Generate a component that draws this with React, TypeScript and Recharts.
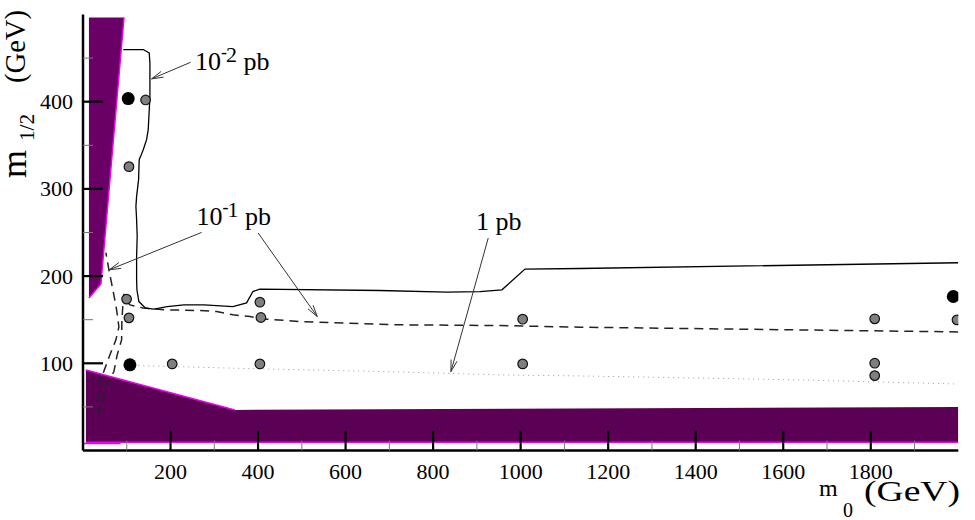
import React from 'react';
import {
    ComposedChart,
    Area,
    Line,
    Scatter,
    XAxis,
    YAxis,
    ReferenceLine,
    ReferenceDot,
} from 'recharts';

const FONT = '"Liberation Serif", "Times New Roman", serif';

// axis ticks
const xTicks = [100, 200, 300, 400, 500, 600, 700, 800, 900, 1000, 1100, 1200, 1300, 1400, 1500, 1600, 1700, 1800, 1900];
const xLabels = [200, 400, 600, 800, 1000, 1200, 1400, 1600, 1800];
const yTicks = [50, 100, 150, 200, 250, 300, 350, 400, 450];
const yLabels = [100, 200, 300, 400];

// excluded regions (m0, [low, high] of m1/2)
const wedgeArea = [
    { x: 13.5, range: [175, 496.5] },
    { x: 40.9, range: [191, 496.5] },
    { x: 93.7, range: [496.5, 496.5] },
];
const wedgeEdge = [
    { x: 93.7, y: 496.5 },
    { x: 40.9, y: 191 },
    { x: 13.5, y: 175 },
];
const bottomArea = [
    { x: 6.6, range: [9.5, 92.4] },
    { x: 347, range: [9.5, 46.5] },
    { x: 2000, range: [9.5, 49.9] },
];
const bottomDiagEdge = [
    { x: 6.6, y: 92.4 },
    { x: 347, y: 46.5 },
];
const bottomLowEdge = [
    { x: 6.6, y: 9.5 },
    { x: 2000, y: 9.5 },
];
const bottomLeftEdge = [
    { x: 2, y: 8 },
    { x: 86, y: 8 },
];

// cross-section contours
const contour001 = [
    { x: 92, y: 459.8 }, { x: 137.6, y: 459.8 }, { x: 151.3, y: 456 }, { x: 152.9, y: 444.6 },
    { x: 152.9, y: 406 }, { x: 150.6, y: 383 }, { x: 149, y: 368 }, { x: 145.3, y: 356.5 },
    { x: 137.6, y: 345 }, { x: 131.6, y: 337.3 }, { x: 128.4, y: 333.5 }, { x: 127, y: 310.6 },
    { x: 122.5, y: 291.4 }, { x: 120.9, y: 280 }, { x: 122.5, y: 264.7 }, { x: 123.8, y: 245.5 },
    { x: 122.5, y: 222.5 }, { x: 122.5, y: 195.8 }, { x: 123.2, y: 184.3 }, { x: 127.7, y: 170.8 },
    { x: 143, y: 163.3 }, { x: 162, y: 162.1 }, { x: 192.4, y: 165.1 }, { x: 230.6, y: 167 },
    { x: 276.3, y: 167 }, { x: 342.5, y: 165.1 }, { x: 373.8, y: 169.3 }, { x: 388.2, y: 182.3 },
    { x: 404.2, y: 185 }, { x: 678.4, y: 183.5 }, { x: 830.8, y: 181.6 }, { x: 907, y: 182.3 },
    { x: 957.2, y: 184.3 }, { x: 1009.8, y: 208 }, { x: 1135.5, y: 208.7 }, { x: 2000, y: 215.3 },
];
const contour01 = [
    { x: 2000, y: 136 }, { x: 1638.6, y: 138.3 }, { x: 1135.5, y: 141.4 }, { x: 952.7, y: 143.3 },
    { x: 724.1, y: 144.1 }, { x: 571, y: 146.7 }, { x: 495.6, y: 147.9 }, { x: 419.5, y: 150.6 },
    { x: 381.4, y: 153.6 }, { x: 342.5, y: 155.6 }, { x: 305.3, y: 159.4 }, { x: 267.1, y: 160.5 },
    { x: 191, y: 161.3 }, { x: 137.6, y: 163.3 }, { x: 107.2, y: 167 }, { x: 95.7, y: 173.9 },
    { x: 93.5, y: 179.7 }, { x: 91.2, y: 167 }, { x: 88.9, y: 149.8 }, { x: 88.2, y: 126.9 },
    { x: 78.1, y: 109.6 }, { x: 70.6, y: 90.5 }, { x: 55.3, y: 77.2 }, { x: 43.9, y: 54.2 },
    { x: 36.3, y: 44.2 }, { x: 32.4, y: 54.2 }, { x: 40.2, y: 80.9 }, { x: 51.6, y: 96.2 },
    { x: 63.1, y: 111.9 }, { x: 75.2, y: 126.9 }, { x: 82, y: 141.8 }, { x: 76.8, y: 161.3 },
    { x: 68.3, y: 184.3 }, { x: 59.2, y: 207.2 }, { x: 52.3, y: 226.8 },
];
const contour1 = [
    { x: 115, y: 97.5 }, { x: 404.2, y: 93.6 }, { x: 724.1, y: 90.1 }, { x: 952.7, y: 86.7 },
    { x: 1135.5, y: 85.5 }, { x: 1638.6, y: 81 }, { x: 1992.5, y: 76.3 },
];

// benchmark points
const grayPoints = [
    { x: 143, y: 402 }, { x: 105, y: 325.5 }, { x: 99.6, y: 173.6 }, { x: 105, y: 152.1 },
    { x: 404.2, y: 170.1 }, { x: 406.5, y: 152.5 }, { x: 203.8, y: 99.3 }, { x: 404.2, y: 99.3 },
    { x: 1004.6, y: 150.6 }, { x: 1004.6, y: 99.3 }, { x: 1809, y: 151 }, { x: 1809, y: 100.1 },
    { x: 1809, y: 85.9 }, { x: 1997, y: 149.8 },
];
const blackPoints = [
    { x: 103.3, y: 403.6 }, { x: 107.2, y: 98.2 }, { x: 1988.6, y: 176.6 },
];

// annotations
const arrows = [
    { from: { x: 245.9, y: 445.2 }, to: { x: 156.8, y: 426.2 } },
    { from: { x: 271, y: 250.1 }, to: { x: 59.9, y: 207.2 } },
    { from: { x: 400.3, y: 249.4 }, to: { x: 535.2, y: 153.6 } },
    { from: { x: 925.9, y: 243.6 }, to: { x: 840.7, y: 90.5 } },
];
const notes = [
    { x: 255.7, y: 436.8, base: '10', sup: '2' },
    { x: 259.6, y: 258.9, base: '10', sup: '1' },
    { x: 897.8, y: 252.3, base: '1', sup: '' },
];

const XTick = ({ x, y, payload }: any) => {
    const v = payload.value;
    const major = v % 200 === 0;
    return (
        <g>
            <line x1={x} x2={x} y1={y} y2={y - (major ? 20 : 10)} stroke={major ? '#000' : '#777'} strokeWidth={major ? 2.2 : 1} />
            {xLabels.includes(v) && (
                <text x={x} y={y + 28} textAnchor="middle" fontFamily={FONT} fontSize={22} fill="#000">{v}</text>
            )}
        </g>
    );
};

const YTick = ({ x, y, payload }: any) => {
    const v = payload.value;
    const major = v % 100 === 0;
    return (
        <g>
            <line x1={x} x2={x + (major ? 20 : 10)} y1={y} y2={y} stroke={major ? '#000' : '#777'} strokeWidth={major ? 2.2 : 1} />
            {yLabels.includes(v) && (
                <text x={x - 10} y={y + 7.5} textAnchor="end" fontFamily={FONT} fontSize={22} fill="#000">{v}</text>
            )}
        </g>
    );
};

const ArrowShape = (p: any) => {
    const { x1, y1, x2, y2 } = p;
    const a = Math.atan2(y2 - y1, x2 - x1);
    const len = 12;
    const s = 0.26;
    const h1 = `${x2 - len * Math.cos(a - s)},${y2 - len * Math.sin(a - s)}`;
    const h2 = `${x2 - len * Math.cos(a + s)},${y2 - len * Math.sin(a + s)}`;
    return (
        <g>
            <line x1={x1} y1={y1} x2={x2} y2={y2} stroke="#333" strokeWidth={1} />
            <polyline points={`${h1} ${x2},${y2} ${h2}`} fill="none" stroke="#333" strokeWidth={1} />
        </g>
    );
};

const NoteShape = (note: any) => (p: any) => (
    <text x={p.cx} y={p.cy} fontFamily={FONT} fontSize={26} fill="#000">
        {note.base}
        {note.sup && <tspan fontSize={18} dx={0} dy={-12}>-</tspan>}
        {note.sup && <tspan fontSize={22} dx={-1} dy={4}>{note.sup}</tspan>}
        <tspan fontSize={26} dy={note.sup ? 8 : 0}>{' pb'}</tspan>
    </text>
);

const grayDot = (p: any) => <circle cx={p.cx} cy={p.cy} r={4.8} fill="#7f7f7f" stroke="#111" strokeWidth={1.2} />;
const blackDot = (p: any) => <circle cx={p.cx} cy={p.cy} r={6.5} fill="#000" />;

export default function App() {
    return (
        <div style={{ position: 'absolute', left: 0, top: 0, background: '#fff' }}>
            <ComposedChart width={975} height={520} margin={{ top: 14.5, right: 16.7, bottom: 29.5, left: 13 }}>
                <Area data={wedgeArea} dataKey="range" type="linear" fill="#6a0066" fillOpacity={1} stroke="none" isAnimationActive={false} />
                <Area data={bottomArea} dataKey="range" type="linear" fill="#5c0055" fillOpacity={1} stroke="none" isAnimationActive={false} />
                <Line data={wedgeEdge} dataKey="y" type="linear" stroke="#ee00ee" strokeWidth={1.5} dot={false} activeDot={false} isAnimationActive={false} />
                <Line data={bottomDiagEdge} dataKey="y" type="linear" stroke="#ee00ee" strokeWidth={1.5} dot={false} activeDot={false} isAnimationActive={false} />
                <Line data={bottomLowEdge} dataKey="y" type="linear" stroke="#ee00ee" strokeWidth={1.5} dot={false} activeDot={false} isAnimationActive={false} />
                <Line data={bottomLeftEdge} dataKey="y" type="linear" stroke="#ee00ee" strokeWidth={1.5} dot={false} activeDot={false} isAnimationActive={false} />

                <Line data={contour1} dataKey="y" type="linear" stroke="#999" strokeWidth={1} strokeDasharray="1 4" dot={false} activeDot={false} isAnimationActive={false} />
                <Line data={contour01} dataKey="y" type="linear" stroke="#222" strokeWidth={1.5} strokeDasharray="9 6" dot={false} activeDot={false} isAnimationActive={false} />
                <Line data={contour001} dataKey="y" type="linear" stroke="#000" strokeWidth={1.3} dot={false} activeDot={false} isAnimationActive={false} />

                <Scatter data={grayPoints} dataKey="y" shape={grayDot} isAnimationActive={false} />
                <Scatter data={blackPoints} dataKey="y" shape={blackDot} isAnimationActive={false} />

                {arrows.map((a, i) => (
                    <ReferenceLine key={`arrow-${i}`} segment={[a.from, a.to]} shape={ArrowShape} />
                ))}
                {notes.map((n, i) => (
                    <ReferenceDot key={`note-${i}`} x={n.x} y={n.y} r={0} shape={NoteShape(n)} />
                ))}

                <XAxis type="number" dataKey="x" domain={[0, 2000]} allowDataOverflow ticks={xTicks} interval={0}
                    tickSize={0} tickMargin={0} tickLine={false} tick={(p: any) => <XTick {...p} />}
                    axisLine={{ stroke: '#000', strokeWidth: 2.5 }} height={40} />
                <YAxis type="number" domain={[0, 500]} allowDataOverflow ticks={yTicks} interval={0}
                    tickSize={0} tickMargin={0} tickLine={false} tick={(p: any) => <YTick {...p} />}
                    axisLine={{ stroke: '#000', strokeWidth: 2.5 }} width={70} />
                <XAxis xAxisId="top" orientation="top" type="number" domain={[0, 2000]} allowDataOverflow
                    tick={false} tickLine={false} height={0} axisLine={{ stroke: '#000', strokeWidth: 2.5 }} />
                <YAxis yAxisId="right" orientation="right" type="number" domain={[0, 500]} allowDataOverflow
                    tick={false} tickLine={false} width={0} axisLine={{ stroke: '#000', strokeWidth: 2.5 }} />

                <text x={819} y={496} fontFamily={FONT} fontSize={24} fill="#000">m</text>
                <text x={843} y={517} fontFamily={FONT} fontSize={20} fill="#000">0</text>
                <text x={864} y={501} fontFamily={FONT} fontSize={30} fill="#000" textLength={96} lengthAdjust="spacingAndGlyphs">(GeV)</text>

                <text transform="translate(26,178) rotate(-90)" fontFamily={FONT} fontSize={36} fill="#000">m</text>
                <text transform="translate(34,141) rotate(-90)" fontFamily={FONT} fontSize={20} fill="#000" textLength={27} lengthAdjust="spacingAndGlyphs">1/2</text>
                <text transform="translate(25,83) rotate(-90)" fontFamily={FONT} fontSize={30} fill="#000" textLength={73} lengthAdjust="spacingAndGlyphs">(GeV)</text>
            </ComposedChart>
        </div>
    );
}
